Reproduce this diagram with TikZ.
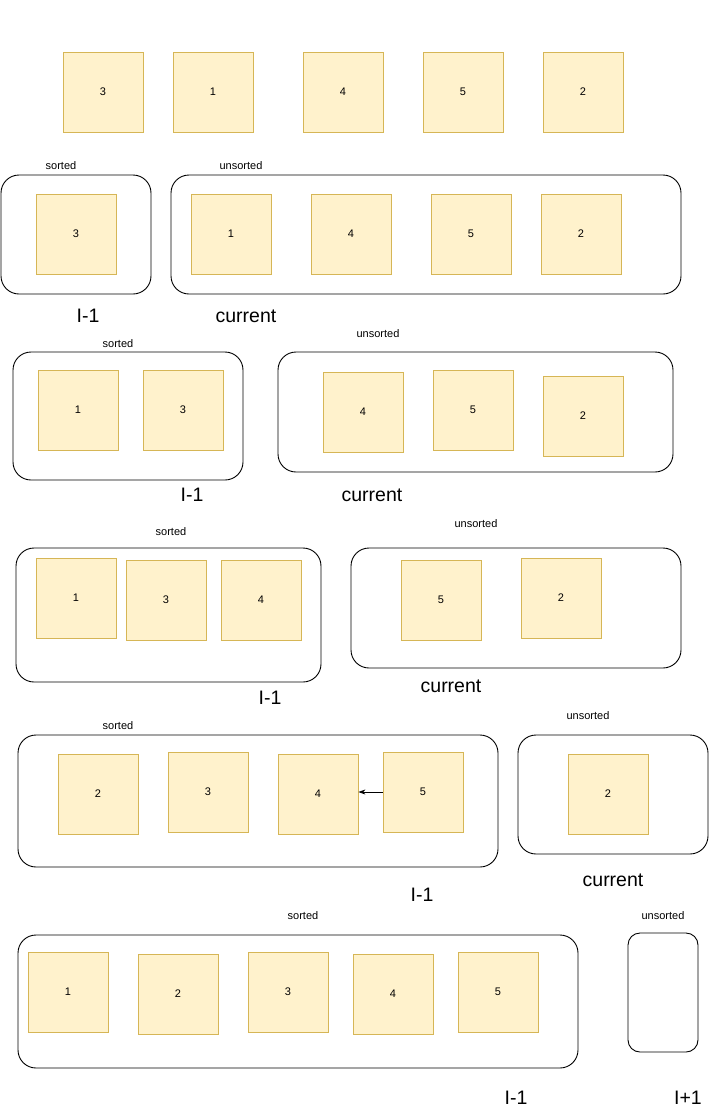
\documentclass[tikz,border=0pt]{standalone}
\usepackage{fontspec}
\setmainfont{Liberation Sans}
\usetikzlibrary{arrows.meta}
\definecolor{sqfill}{HTML}{FFF2CC}
\definecolor{sqdraw}{HTML}{D6B656}
\begin{document}
\begin{tikzpicture}[x=1pt,y=-1pt,
  sq/.style={draw=sqdraw,fill=sqfill,line width=0.8pt,minimum width=80pt,minimum height=80pt,inner sep=0pt,font=\fontsize{11}{13}\selectfont},
  grp/.style={draw=black,line width=0.9pt,rounded corners=18pt,inner sep=0pt},
  small/.style={font=\fontsize{11}{13}\selectfont,inner sep=0pt},
  big/.style={font=\fontsize{19.5}{22}\selectfont,inner sep=0pt}]
\useasboundingbox (0,0) rectangle (719,1112);
% Row 1
\node[sq] (a1) at (103,92) {3};
\node[sq] (a2) at (213,92) {1};
\node[sq] (a3) at (343,92) {4};
\node[sq] (a4) at (463,92) {5};
\node[sq] (a5) at (583,92) {2};
% Row 2
\node[grp,minimum width=150pt,minimum height=119pt] (bs) at (76,234.5) {};
\node[small] (bsl) at (61,166) {sorted};
\node[grp,minimum width=510pt,minimum height=119pt] (bu) at (426,234.5) {};
\node[small] (bul) at (241,166) {unsorted};
\node[sq] (b1) at (76,234) {3};
\node[sq] (b2) at (231,234) {1};
\node[sq] (b3) at (351,234) {4};
\node[sq] (b4) at (471,234) {5};
\node[sq] (b5) at (581,234) {2};
\node[big] (bi) at (88,316) {I-1};
\node[big] (bc) at (246,316) {current};
% Row 3
\node[grp,minimum width=230pt,minimum height=128pt] (cs) at (128,416) {};
\node[small] (csl) at (118,344) {sorted};
\node[grp,minimum width=395pt,minimum height=120pt] (cu) at (475.5,412) {};
\node[small] (cul) at (378,334) {unsorted};
\node[sq] (c1) at (78,410) {1};
\node[sq] (c2) at (183,410) {3};
\node[sq] (c3) at (363,412) {4};
\node[sq] (c4) at (473,410) {5};
\node[sq] (c5) at (583,416) {2};
\node[big] (ci) at (192,495) {I-1};
\node[big] (cc) at (372,495) {current};
% Row 4
\node[grp,minimum width=305pt,minimum height=134pt] (ds) at (168.5,615) {};
\node[small] (dsl) at (171,532) {sorted};
\node[grp,minimum width=330pt,minimum height=120pt] (du) at (516,608) {};
\node[small] (dul) at (476,524) {unsorted};
\node[sq] (d1) at (76,598) {1};
\node[sq] (d2) at (166,600) {3};
\node[sq] (d3) at (261,600) {4};
\node[sq] (d4) at (441,600) {5};
\node[sq] (d5) at (561,598) {2};
\node[big] (di) at (270,698) {I-1};
\node[big] (dc) at (451,686) {current};
% Row 5
\node[grp,minimum width=480pt,minimum height=132pt] (es) at (258,801) {};
\node[small] (esl) at (118,726) {sorted};
\node[grp,minimum width=190pt,minimum height=119pt] (eu) at (613,794.5) {};
\node[small] (eul) at (588,716) {unsorted};
\node[sq] (e1) at (98,794) {2};
\node[sq] (e2) at (208,792) {3};
\node[sq] (e3) at (318,794) {4};
\node[sq] (e4) at (423,792) {5};
\node[sq] (e5) at (608,794) {2};
\draw[-{Stealth[length=7pt,width=5pt]},line width=0.8pt] (e4.west) -- (e3.east |- e4.west);
\node[big] (ei) at (422,895) {I-1};
\node[big] (ec) at (613,880) {current};
% Row 6
\node[grp,minimum width=560pt,minimum height=133pt] (fs) at (298,1001.5) {};
\node[small] (fsl) at (303,916) {sorted};
\node[grp,rounded corners=12pt,minimum width=70pt,minimum height=119pt] (fu) at (663,992.5) {};
\node[small] (ful) at (663,916) {unsorted};
\node[sq] (f1) at (68,992) {1};
\node[sq] (f2) at (178,994) {2};
\node[sq] (f3) at (288,992) {3};
\node[sq] (f4) at (393,994) {4};
\node[sq] (f5) at (498,992) {5};
\node[big] (fi) at (516,1098) {I-1};
\node[big] (fp) at (688,1098) {I+1};
\end{tikzpicture}
\end{document}
